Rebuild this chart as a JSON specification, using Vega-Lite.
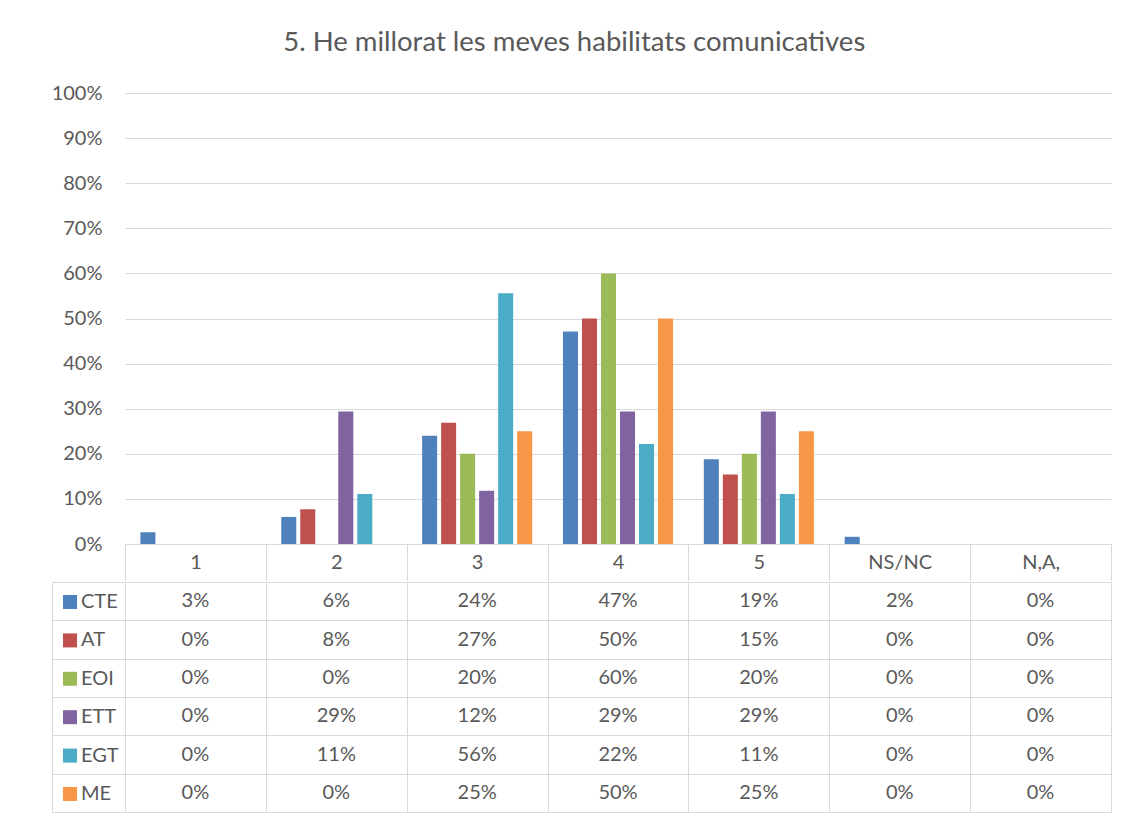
{
  "$schema": "https://vega.github.io/schema/vega-lite/v6.json",
  "padding": {"left": 51, "top": 28, "right": 10, "bottom": 5},
  "title": {"text": "5. He millorat les meves habilitats comunicatives", "font": "Lato", "fontSize": 27.5, "fontWeight": "normal", "color": "#595959", "anchor": "middle", "offset": 27, "dx": -7},
  "config": {"font": "Lato", "view": {"stroke": null}},
  "data": {"values": [
    {"cat": "1", "serie": "CTE", "value": 0.026},
    {"cat": "1", "serie": "AT", "value": 0},
    {"cat": "1", "serie": "EOI", "value": 0},
    {"cat": "1", "serie": "ETT", "value": 0},
    {"cat": "1", "serie": "EGT", "value": 0},
    {"cat": "1", "serie": "ME", "value": 0},
    {"cat": "2", "serie": "CTE", "value": 0.06},
    {"cat": "2", "serie": "AT", "value": 0.077},
    {"cat": "2", "serie": "EOI", "value": 0},
    {"cat": "2", "serie": "ETT", "value": 0.294},
    {"cat": "2", "serie": "EGT", "value": 0.111},
    {"cat": "2", "serie": "ME", "value": 0},
    {"cat": "3", "serie": "CTE", "value": 0.24},
    {"cat": "3", "serie": "AT", "value": 0.269},
    {"cat": "3", "serie": "EOI", "value": 0.2},
    {"cat": "3", "serie": "ETT", "value": 0.118},
    {"cat": "3", "serie": "EGT", "value": 0.556},
    {"cat": "3", "serie": "ME", "value": 0.25},
    {"cat": "4", "serie": "CTE", "value": 0.471},
    {"cat": "4", "serie": "AT", "value": 0.5},
    {"cat": "4", "serie": "EOI", "value": 0.6},
    {"cat": "4", "serie": "ETT", "value": 0.294},
    {"cat": "4", "serie": "EGT", "value": 0.222},
    {"cat": "4", "serie": "ME", "value": 0.5},
    {"cat": "5", "serie": "CTE", "value": 0.188},
    {"cat": "5", "serie": "AT", "value": 0.154},
    {"cat": "5", "serie": "EOI", "value": 0.2},
    {"cat": "5", "serie": "ETT", "value": 0.294},
    {"cat": "5", "serie": "EGT", "value": 0.111},
    {"cat": "5", "serie": "ME", "value": 0.25},
    {"cat": "NS/NC", "serie": "CTE", "value": 0.016},
    {"cat": "NS/NC", "serie": "AT", "value": 0},
    {"cat": "NS/NC", "serie": "EOI", "value": 0},
    {"cat": "NS/NC", "serie": "ETT", "value": 0},
    {"cat": "NS/NC", "serie": "EGT", "value": 0},
    {"cat": "NS/NC", "serie": "ME", "value": 0},
    {"cat": "N,A,", "serie": "CTE", "value": 0},
    {"cat": "N,A,", "serie": "AT", "value": 0},
    {"cat": "N,A,", "serie": "EOI", "value": 0},
    {"cat": "N,A,", "serie": "ETT", "value": 0},
    {"cat": "N,A,", "serie": "EGT", "value": 0},
    {"cat": "N,A,", "serie": "ME", "value": 0}
  ]},
  "spacing": 0,
  "resolve": {"scale": {"color": "independent"}, "legend": {"color": "independent"}},
  "vconcat": [
    {
      "width": 986,
      "height": 451,
      "transform": [{"filter": "datum.value > 0"}],
      "mark": {"type": "bar"},
      "encoding": {
        "x": {"field": "cat", "type": "nominal", "sort": null,
          "scale": {"domain": ["1", "2", "3", "4", "5", "NS/NC", "N,A,"], "paddingInner": 0, "paddingOuter": 0},
          "axis": {"title": null, "orient": "bottom", "tickBand": "extent", "tickSize": 36, "tickColor": "#D9D9D9", "domainColor": "#D9D9D9", "labelAngle": 0, "labelBaseline": "middle", "labelPadding": -18, "labelFontSize": 20, "labelColor": "#595959", "labelFont": "Lato", "grid": false}},
        "xOffset": {"field": "serie", "type": "nominal",
          "scale": {"domain": ["CTE", "AT", "EOI", "ETT", "EGT", "ME"], "paddingInner": 0.21, "paddingOuter": 0.81}},
        "y": {"field": "value", "type": "quantitative", "scale": {"domain": [0, 1]},
          "axis": {"title": null, "values": [0, 0.1, 0.2, 0.3, 0.4, 0.5, 0.6, 0.7, 0.8, 0.9, 1], "format": ".0%", "domain": false, "ticks": false, "labelPadding": 23, "grid": true, "gridColor": "#D9D9D9", "labelFontSize": 20, "labelColor": "#595959", "labelFont": "Lato"}},
        "color": {"field": "serie", "type": "nominal",
          "scale": {"domain": ["CTE", "AT", "EOI", "ETT", "EGT", "ME"], "range": ["#4F81BD", "#C0504D", "#9BBB59", "#8064A2", "#4BACC6", "#F79646"]},
          "legend": null}
      }
    },
    {
      "width": 986,
      "height": 230,
      "view": {"stroke": "#D9D9D9"},
      "encoding": {
        "x": {"field": "cat", "type": "nominal", "sort": null,
          "scale": {"domain": ["1", "2", "3", "4", "5", "NS/NC", "N,A,"], "paddingInner": 0, "paddingOuter": 0},
          "axis": {"title": null, "orient": "top", "labels": false, "ticks": false, "domain": false, "grid": true, "tickBand": "extent", "gridColor": "#D9D9D9"}},
        "y": {"field": "serie", "type": "nominal", "sort": null,
          "scale": {"domain": ["CTE", "AT", "EOI", "ETT", "EGT", "ME"], "paddingInner": 0, "paddingOuter": 0},
          "axis": {"title": null, "labels": false, "offset": 73, "domainColor": "#D9D9D9", "tickSize": -73, "tickColor": "#D9D9D9", "tickBand": "extent", "grid": true, "gridColor": "#D9D9D9"}}
      },
      "layer": [
        {
          "mark": {"type": "text", "font": "Lato", "fontSize": 20, "color": "#595959"},
          "encoding": {"text": {"field": "value", "type": "quantitative", "format": ".0%"}}
        },
        {
          "mark": {"type": "square", "opacity": 0, "size": 1},
          "encoding": {
            "color": {"field": "serie", "type": "nominal",
              "scale": {"domain": ["CTE", "AT", "EOI", "ETT", "EGT", "ME"], "range": ["#4F81BD", "#C0504D", "#9BBB59", "#8064A2", "#4BACC6", "#F79646"]},
              "legend": {"orient": "none", "legendX": -65, "legendY": 10, "title": null, "symbolType": "square", "symbolSize": 196, "symbolStrokeWidth": 0, "symbolOpacity": 1, "labelFontSize": 20, "labelFont": "Lato", "labelColor": "#595959", "labelOffset": 1, "rowPadding": 18.4, "padding": 0, "direction": "vertical"}}
          }
        }
      ]
    }
  ]
}
